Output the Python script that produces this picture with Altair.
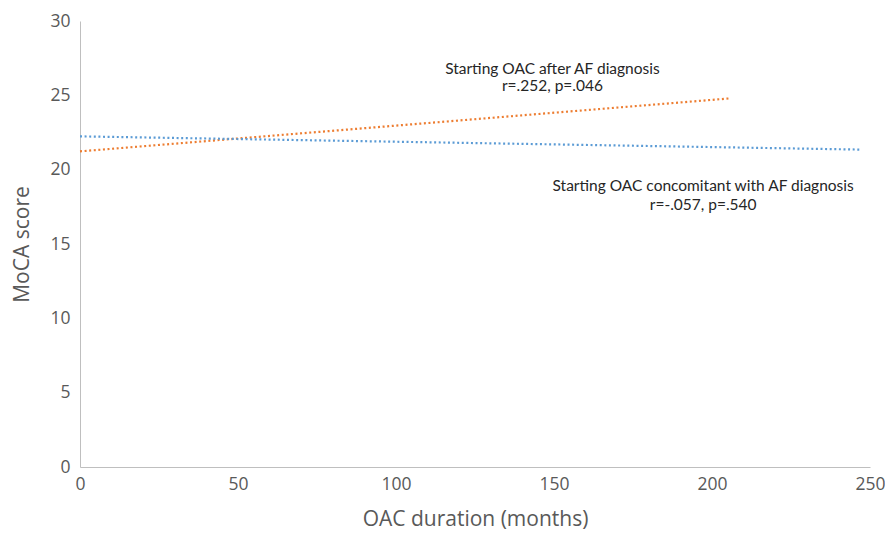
import altair as alt
import pandas as pd

# Trend line endpoints
series_names = ["Starting OAC after AF diagnosis", "Starting OAC concomitant with AF diagnosis"]
after_x = [0, 206]
after_y = [21.23, 24.8]
concomitant_x = [0, 247]
concomitant_y = [22.24, 21.35]

x_ticks = [0, 50, 100, 150, 200, 250]
y_ticks = [0, 5, 10, 15, 20, 25, 30]

ann_lines = [
    "Starting OAC after AF diagnosis",
    "r=.252, p=.046",
    "Starting OAC concomitant with AF diagnosis",
    "r=-.057, p=.540",
]
ann_x = [149.5, 149.5, 197.2, 197.2]
ann_y = [26.8, 25.6, 18.9, 17.6]

lines = pd.DataFrame({
    "x": after_x + concomitant_x,
    "y": after_y + concomitant_y,
    "series": [series_names[0]] * 2 + [series_names[1]] * 2,
})
ann = pd.DataFrame({"x": ann_x, "y": ann_y, "label": ann_lines})

xscale = alt.Scale(domain=[0, 250], nice=False, zero=True)
yscale = alt.Scale(domain=[0, 30], nice=False)

base_line = alt.Chart(lines).mark_line(
    strokeWidth=2.2, strokeDash=[2, 2.6], strokeCap="butt"
).encode(
    x=alt.X("x:Q", scale=xscale, axis=alt.Axis(
        values=x_ticks, title="OAC duration (months)", grid=False, ticks=False,
        domainColor="#bfbfbf", labelColor="#595959", labelFontSize=17.5,
        labelFont="Open Sans", labelPadding=8, titleFont="Open Sans",
        titleFontSize=21, titleFontWeight="normal", titleColor="#595959",
        titlePadding=16, labelFlush=False)),
    y=alt.Y("y:Q", scale=yscale, axis=alt.Axis(
        values=y_ticks, title="MoCA score", grid=False, ticks=False,
        domainColor="#bfbfbf", labelColor="#595959", labelFontSize=17.5,
        labelFont="Open Sans", labelPadding=10, titleFont="Open Sans",
        titleFontSize=21, titleFontWeight="normal", titleColor="#595959",
        titlePadding=17, labelFlush=False)),
    color=alt.Color("series:N", scale=alt.Scale(domain=series_names,
                                                range=["#ED7D31", "#5B9BD5"]), legend=None),
    detail="series:N",
)

text = alt.Chart(ann).mark_text(
    font="Lato", fontSize=15.5, color="#262626", align="center", baseline="middle"
).encode(x=alt.X("x:Q", scale=xscale), y=alt.Y("y:Q", scale=yscale), text="label:N")

chart = alt.layer(base_line, text).properties(
    width=790, height=446,
    autosize=alt.AutoSizeParams(type="none"),
    padding={"left": 72, "top": 13, "right": 15, "bottom": 64},
).configure_view(stroke=None)

chart.save("out.html", embed_options={"renderer": "svg", "actions": False})
